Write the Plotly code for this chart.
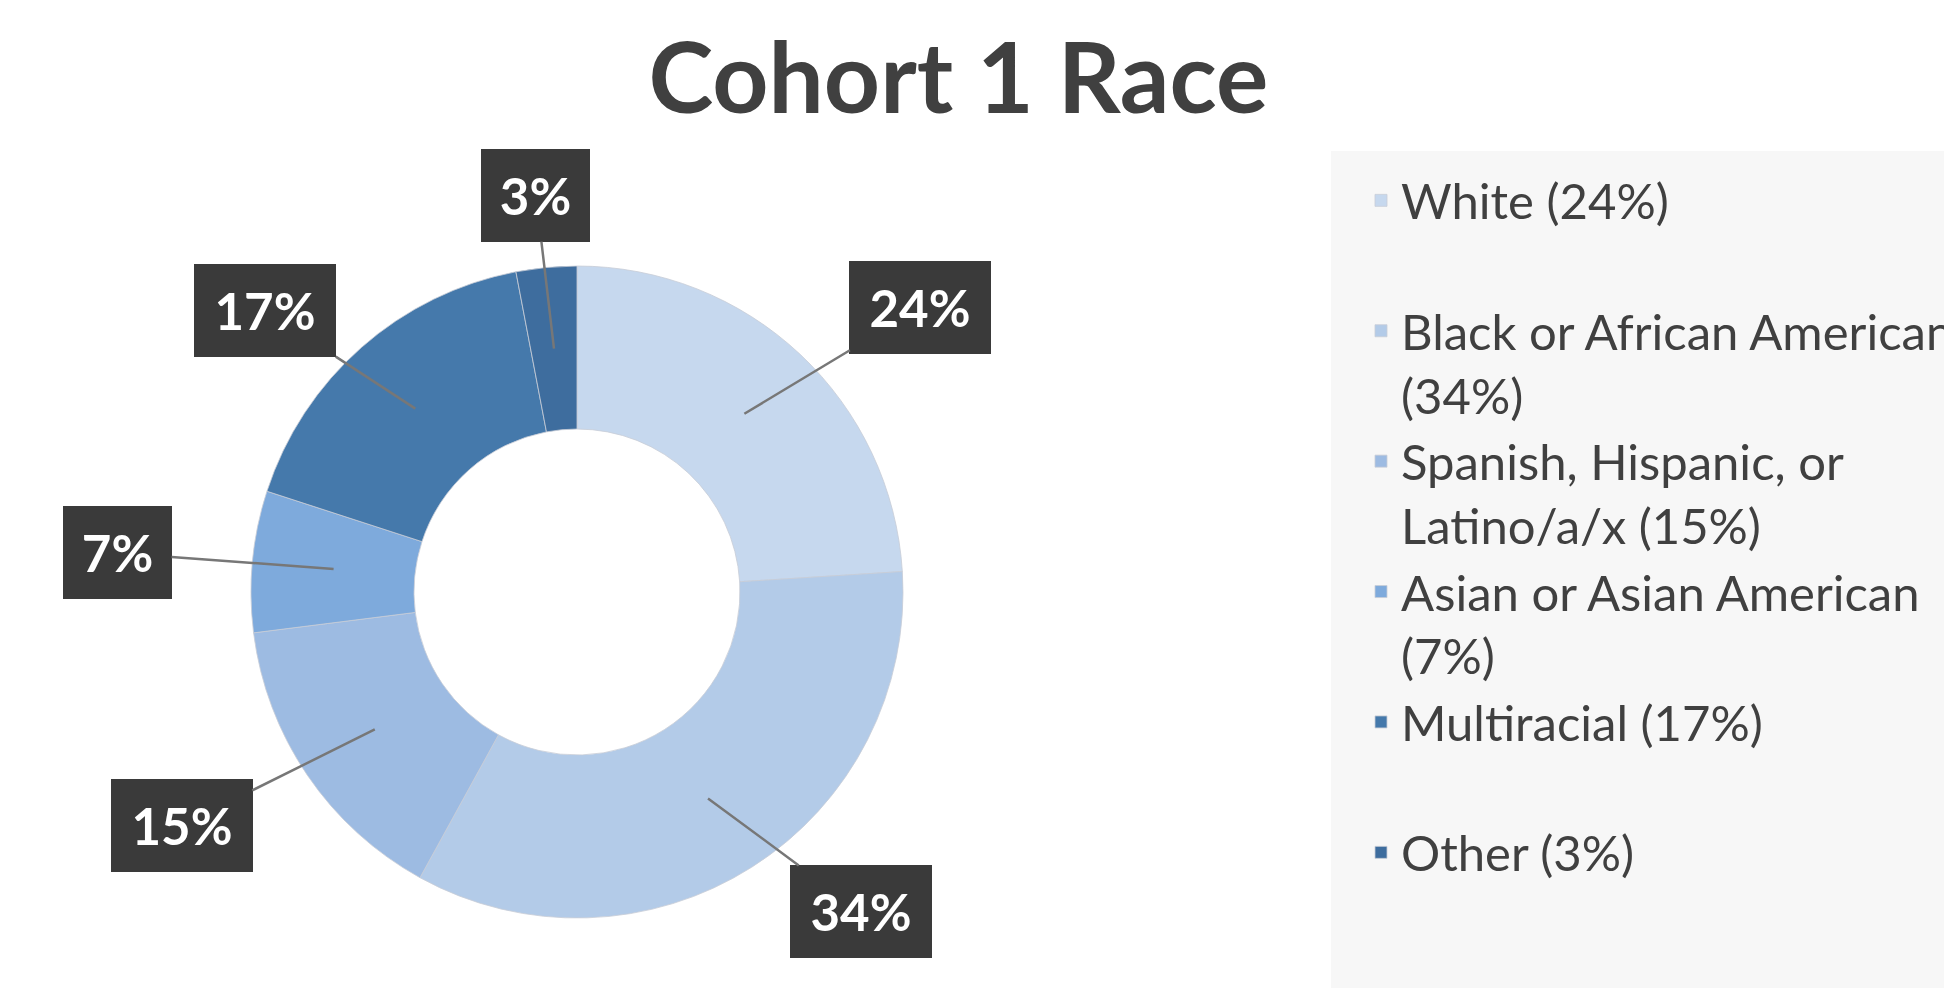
import math
import plotly.graph_objects as go

# ---- data ----
categories = ["White", "Black or African American", "Spanish, Hispanic, or Latino/a/x",
              "Asian or Asian American", "Multiracial", "Other"]
percents = [24, 34, 15, 7, 17, 3]
legend_labels = ["White (24%)<br> ", "Black or African American<br>(34%)",
                 "Spanish, Hispanic, or<br>Latino/a/x (15%)", "Asian or Asian American<br>(7%)",
                 "Multiracial (17%)<br> ", "Other (3%)"]
colors = ["#C6D8EE", "#B3CBE8", "#9DBBE2", "#7EAADC", "#4579AB", "#3E6D9E"]

# ---- layout constants ----
W, H = 1944, 988
CX, CY, R = 577, 592, 326  # pie centre / radius in pixels
HOLE = 0.5
# label box offsets (pixels) from the leader tip
label_offsets = [(176, -106), (153, 113), (-193, 96), (-216, -16), (-150, -98), (-18, -153)]

dom_x = [(CX - R) / W, (CX + R) / W]
dom_y = [1 - (CY + R) / H, 1 - (CY - R) / H]

fig = go.Figure()
fig.add_trace(go.Pie(
    labels=legend_labels,
    values=percents,
    hole=HOLE,
    sort=False,
    direction="clockwise",
    rotation=0,
    marker=dict(colors=colors, line=dict(color="rgba(200,205,215,0.8)", width=1)),
    textinfo="none",
    hoverinfo="label+percent",
    domain=dict(x=dom_x, y=dom_y),
))

# leader annotations computed from slice mid-angles
total = sum(percents)
cum = 0
annotations = []
for i, v in enumerate(percents):
    mid = (cum + v / 2) / total * 2 * math.pi
    cum += v
    rr = R * (1 + HOLE) / 2
    px = CX + rr * math.sin(mid)
    py = CY - rr * math.cos(mid)
    ax, ay = label_offsets[i]
    pct = round(v / total * 100)
    annotations.append(dict(
        x=px / W, y=1 - py / H, xref="paper", yref="paper",
        text=f"<b>{pct}%</b>",
        showarrow=True, arrowhead=0, arrowwidth=2.5, arrowcolor="#777777",
        ax=ax, ay=ay,
        width=77 if pct < 10 else 110,
        bgcolor="#3A3A3A", borderpad=15, bordercolor="#3A3A3A", borderwidth=1,
        font=dict(family="Lato", size=51, color="white"),
    ))

fig.update_layout(
    width=W, height=H,
    margin=dict(l=0, r=0, t=0, b=0, autoexpand=False),
    paper_bgcolor="white",
    plot_bgcolor="white",
    title=dict(text="<b>Cohort 1 Race</b>", x=0.493, xanchor="center", y=0.955, yanchor="top",
               font=dict(family="Lato", size=98, color="#404040")),
    shapes=[dict(type="rect", xref="paper", yref="paper",
                 x0=1331 / W, x1=1.01, y0=-0.01, y1=1 - 151 / H,
                 fillcolor="#F7F7F7", line=dict(width=0), layer="below")],
    legend=dict(
        x=1361 / W, y=1 - 162 / H, xanchor="left", yanchor="top",
        xref="container", yref="container",
        maxheight=900,
        bgcolor="rgba(0,0,0,0)",
        font=dict(family="Lato", size=49, color="#404040"),
        valign="top",
        itemclick=False,
    ),
    annotations=annotations,
    showlegend=True,
)

fig.write_html("out.html")
